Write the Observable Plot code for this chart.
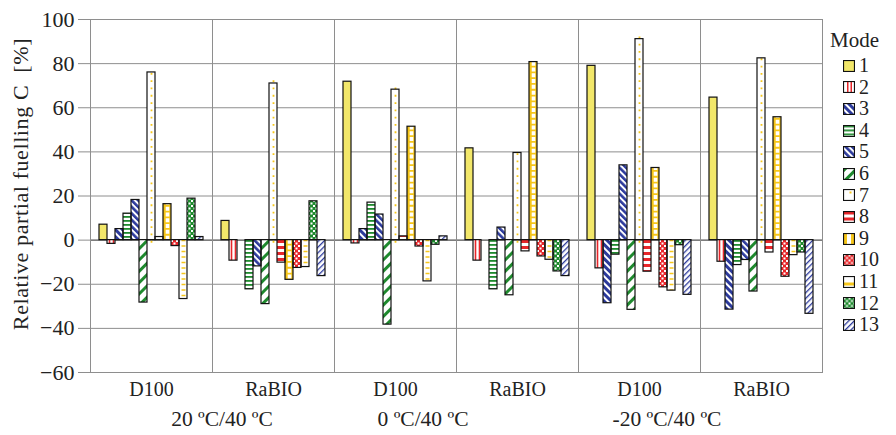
<!DOCTYPE html>
<html><head><meta charset="utf-8">
<script src="https://cdn.jsdelivr.net/npm/d3@7"></script>
<script src="https://cdn.jsdelivr.net/npm/@observablehq/plot@0.6"></script>
<style>
body{margin:0;background:#fff;}
#wrap{position:relative;width:896px;height:435px;font-family:"Liberation Serif","Times New Roman",serif;color:#222;}
#legend{position:absolute;left:830px;top:26px;font-size:20px;line-height:21.6px;}
#legend .t{height:29px;line-height:29px;font-size:21px;}
#legend .it{display:flex;align-items:center;height:21.6px;padding-left:13px;}
#legend svg{margin-right:4px;}
</style></head><body>
<svg width="0" height="0" style="position:absolute">
<defs>
<pattern id="p3" patternUnits="userSpaceOnUse" width="5" height="5" patternTransform="rotate(-45)">
  <rect width="5" height="5" fill="#2c3a9c"/><rect width="2" height="5" fill="#fff"/></pattern>
<pattern id="p5" patternUnits="userSpaceOnUse" width="4.6" height="4.6" patternTransform="rotate(-45)">
  <rect width="4.6" height="4.6" fill="#fff"/><rect width="2.6" height="4.6" fill="#2c3a9c"/></pattern>
<pattern id="p4" patternUnits="userSpaceOnUse" width="4" height="4">
  <rect width="4" height="4" fill="#fff"/><rect y="0" width="4" height="1.8" fill="#1f8a2e"/></pattern>
<pattern id="p6" patternUnits="userSpaceOnUse" width="8" height="8" patternTransform="rotate(45)">
  <rect width="8" height="8" fill="#fff"/><rect width="3" height="8" fill="#1f8a2e"/></pattern>
<pattern id="p8" patternUnits="userSpaceOnUse" width="6" height="6">
  <rect width="6" height="6" fill="#fff"/><rect y="0" width="6" height="3" fill="#e8262a"/></pattern>
<pattern id="p10" patternUnits="userSpaceOnUse" width="5" height="5">
  <rect width="5" height="5" fill="#e8262a"/><rect x="0" y="0" width="2" height="2" fill="#fff"/><rect x="2.5" y="2.5" width="2" height="2" fill="#fff"/></pattern>
<pattern id="p12" patternUnits="userSpaceOnUse" width="5" height="5">
  <rect width="5" height="5" fill="#1f8a2e"/><rect x="0" y="0" width="2" height="2" fill="#fff"/><rect x="2.5" y="2.5" width="2" height="2" fill="#fff"/></pattern>
<pattern id="p13" patternUnits="userSpaceOnUse" width="4" height="4" patternTransform="rotate(45)">
  <rect width="4" height="4" fill="#fff"/><rect width="1.3" height="4" fill="#2c3a9c"/></pattern>
</defs></svg>
<div id="wrap"></div>
<script>
const modes = [1,2,3,4,5,6,7,8,9,10,11,12,13];
const fuels = ["D100","RaBIO","D100","RaBIO","D100","RaBIO"];
const temps = ["20 ºC/40 ºC","0 ºC/40 ºC","-20 ºC/40 ºC"];
const yTicks = [-60,-40,-20,0,20,40,60,80,100];
const yLabel = "Relative partial fuelling C  [%]";
// values per group (modes 1..13)
const t20_D100  = [7, -1.7, 5, 12, 18.2, -28.3, 76, 1.4, 16.3, -2.7, -26.7, 18.8, 1.4];
const t20_RaBIO = [8.7, -9.3, 0, -22.3, -11.9, -29, 71, -10.2, -18, -12.6, -12.2, 17.6, -16.3];
const t0_D100   = [71.8, -1.5, 5, 17, 11.6, -38.3, 68.2, 1.7, 51.4, -2.9, -18.7, -2.1, 1.7];
const t0_RaBIO  = [41.6, -9.3, 0, -22.3, 5.7, -25, 39.5, -5.1, 80.7, -7.4, -8.9, -14.2, -16.3];
const tm20_D100 = [79, -12.8, -28.6, -6.6, 33.9, -31.6, 91.1, -14.3, 32.7, -21.4, -22.9, -2.3, -24.8];
const tm20_RaBIO= [64.6, -9.8, -31.5, -11.3, -9, -23.3, 82.4, -5.6, 55.7, -16.6, -6.8, -5.6, -33.4];

const groupValues = [t20_D100, t20_RaBIO, t0_D100, t0_RaBIO, tm20_D100, tm20_RaBIO];
const keys = fuels.map((f, i) => `${i}|${f}`);
const rows = [];
groupValues.forEach((vals, gi) => vals.forEach((v, mi) => rows.push({key: keys[gi], mode: modes[mi], value: v})));

const YELLOW = "#f2e76a", GOLD = "#f6c61a", RED = "#e8262a";
const fills = {1: YELLOW, 2: "#fff", 3: "url(#p3)", 4: "url(#p4)", 5: "url(#p5)", 6: "url(#p6)", 7: "#fff",
  8: "url(#p8)", 9: GOLD, 10: "url(#p10)", 11: "#fff", 12: "url(#p12)", 13: "url(#p13)"};
const sel = m => rows.filter(d => d.mode === m);
const common = {fx: "key", x: "mode", y1: 0, y2: "value"};

const plot = Plot.plot({
  width: 896, height: 435,
  marginLeft: 89, marginRight: 73, marginTop: 19, marginBottom: 63,
  style: {fontFamily: "'Liberation Serif', 'Times New Roman', serif", fontSize: "20px", color: "#222", background: "transparent"},
  y: {domain: [-60, 100]},
  x: {domain: modes, paddingInner: 0, paddingOuter: 0.7, axis: null},
  fx: {domain: keys, padding: 0, label: null},
  color: {type: "identity"},
  marks: [
    Plot.gridY(yTicks, {stroke: "#8e8e8e", strokeOpacity: 1}),
    Plot.ruleY([0], {stroke: "#5a5a5a"}),
    Plot.barY(rows, {fx: "key", x: "mode", y: "value", fill: d => fills[d.mode]}),
    Plot.ruleX(sel(2), {...common, stroke: RED, strokeWidth: 1.6, dx: -2}),
    Plot.ruleX(sel(2), {...common, stroke: RED, strokeWidth: 1.6, dx: 2}),
    Plot.ruleX(sel(7), {...common, stroke: GOLD, strokeWidth: 1.8, strokeDasharray: "1.8 5.5", insetTop: 3, insetBottom: 3}),
    Plot.ruleX(sel(9), {...common, stroke: "#fff", strokeWidth: 3.6, strokeDasharray: "4 1.8"}),
    Plot.ruleX(sel(11), {...common, stroke: GOLD, strokeWidth: 4, strokeDasharray: "1.5 4"}),
    Plot.barY(rows, {fx: "key", x: "mode", y: "value", fill: "none", stroke: "#111", strokeWidth: 1.2}),
    Plot.frame({stroke: "#8e8e8e"}),
    Plot.axisY(yTicks, {tickSize: 12, tickPadding: 4, stroke: "#8e8e8e", fontSize: 22, label: null}),
    Plot.axisFx({anchor: "bottom", tickSize: 0, tickPadding: 9, fontSize: 20, tickFormat: k => k.split("|")[1], label: null})
  ]
});

const svg = d3.select(plot);
svg.append("text").attr("transform", "translate(28,184) rotate(-90)").attr("text-anchor", "middle")
  .attr("fill", "#222").style("font-size", "22px").style("letter-spacing", "0.6px").text(yLabel);
const fx = plot.scale("fx");
const tempOffsets = [10, -33, -33];
temps.forEach((t, k) => {
  const x = fx.apply(keys[2 * k + 1]) + tempOffsets[k];
  svg.append("text").attr("x", x).attr("y", 426).attr("text-anchor", "middle").attr("fill", "#222")
    .style("font-size", "21.5px").text(t);
});

const wrap = document.getElementById("wrap");
wrap.appendChild(plot);

// legend
const legend = document.createElement("div");
legend.id = "legend";
legend.innerHTML = `<div class="t">Mode</div>`;
modes.forEach(m => {
  const it = document.createElement("div");
  it.className = "it";
  let extra = "";
  if (m === 2) extra = `<rect x="3.5" y="0" width="1.5" height="11" fill="${RED}"/><rect x="7" y="0" width="1.5" height="11" fill="${RED}"/>`;
  if (m === 7) extra = `<rect x="6" y="2" width="2" height="2" fill="${GOLD}"/>`;
  if (m === 9) extra = `<rect x="3.5" y="0" width="4" height="11" fill="#fff"/>`;
  if (m === 11) extra = `<rect x="0" y="6" width="11" height="3" fill="${GOLD}"/>`;
  it.innerHTML = `<svg width="12" height="12" viewBox="-0.5 -0.5 12 12"><rect width="11" height="11" fill="${fills[m]}"/>${extra}<rect width="11" height="11" fill="none" stroke="#111" stroke-width="1.2"/></svg><span>${m}</span>`;
  legend.appendChild(it);
});
wrap.appendChild(legend);
</script>
</body></html>
